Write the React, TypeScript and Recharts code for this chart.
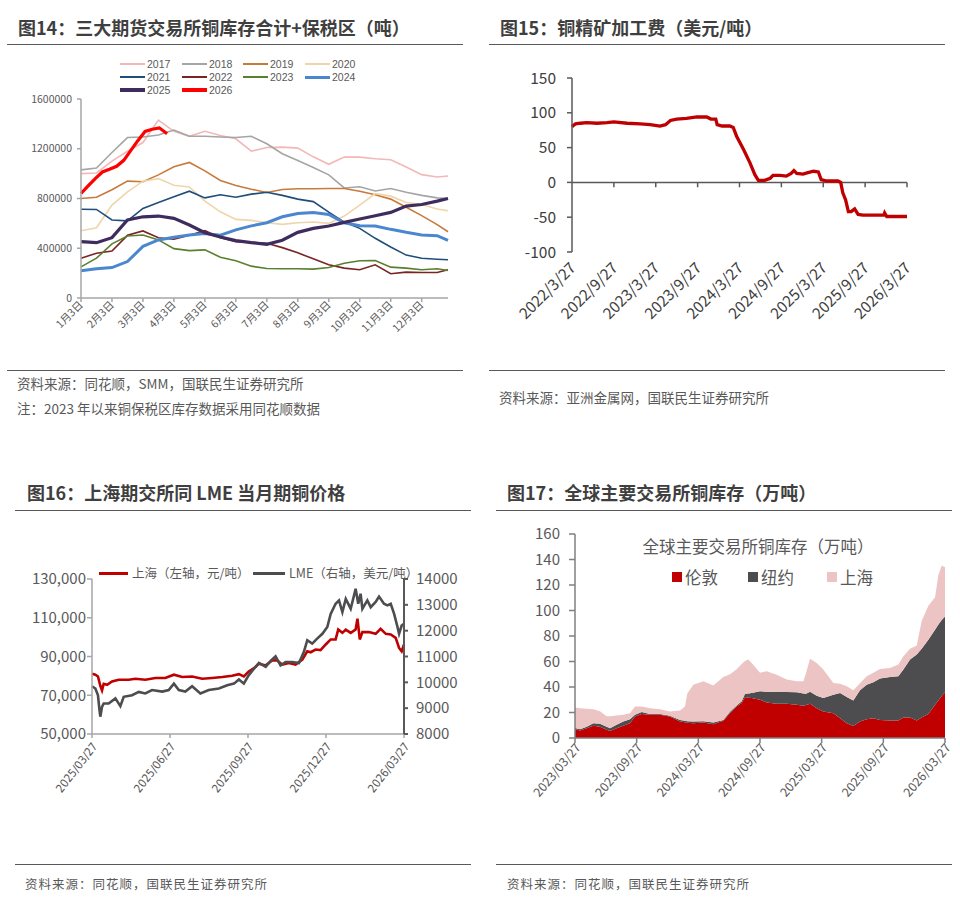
import React from 'react';
import { LineChart, Line, XAxis, YAxis, AreaChart, Area, ReferenceLine } from 'recharts';

const FONT = '"Noto Sans CJK SC", "Noto Sans", sans-serif';
const NARROW = '"Liberation Sans Narrow", "DejaVu Sans Condensed", "Noto Sans", sans-serif';
const LATIN = '"Liberation Sans", Arial, sans-serif';

// ---------- 图14：三大期货交易所铜库存合计+保税区（千吨） ----------
const invMonthLabels = ['1月3日', '2月3日', '3月3日', '4月3日', '5月3日', '6月3日', '7月3日', '8月3日', '9月3日', '10月3日', '11月3日', '12月3日'];
const invMonthGrid = [0, 0.5, 1, 1.5, 2, 2.5, 3, 3.5, 4, 4.5, 5, 5.5, 6, 6.5, 7, 7.5, 8, 8.5, 9, 9.5, 10, 10.5, 11, 11.5, 11.85];
const inv2017 = [1000, 1005, 1100, 1180, 1250, 1430, 1340, 1300, 1340, 1307, 1280, 1180, 1210, 1213, 1205, 1135, 1075, 1133, 1133, 1120, 1112, 1053, 992, 973, 981];
const inv2018 = [1030, 1045, 1170, 1290, 1295, 1310, 1350, 1300, 1300, 1295, 1290, 1300, 1240, 1160, 1105, 1050, 990, 885, 895, 860, 880, 850, 825, 805, 800];
const inv2019 = [800, 810, 870, 940, 935, 990, 1055, 1090, 1022, 945, 905, 875, 848, 872, 878, 878, 880, 880, 858, 830, 795, 730, 662, 590, 533];
const inv2020 = [540, 565, 747, 853, 939, 960, 907, 893, 779, 693, 632, 624, 605, 592, 605, 611, 600, 659, 747, 840, 819, 768, 752, 715, 701];
const inv2021 = [714, 712, 627, 620, 720, 768, 815, 859, 805, 830, 810, 835, 850, 825, 795, 775, 690, 610, 560, 480, 410, 345, 320, 312, 307];
const inv2022 = [320, 360, 378, 504, 539, 485, 472, 504, 541, 485, 453, 448, 440, 405, 363, 315, 267, 240, 227, 267, 195, 208, 205, 205, 227];
const inv2023 = [250, 320, 435, 499, 507, 467, 397, 381, 387, 328, 299, 256, 237, 235, 235, 232, 245, 280, 299, 301, 248, 240, 227, 235, 221];
const inv2024 = [220, 235, 245, 293, 415, 467, 488, 507, 518, 505, 548, 580, 605, 653, 680, 688, 672, 605, 581, 579, 552, 528, 507, 501, 464];
const inv2025 = [453, 445, 485, 627, 653, 659, 640, 587, 525, 491, 461, 445, 432, 464, 528, 560, 579, 608, 635, 661, 688, 739, 752, 779, 800];
const inv2026Months = [0, 0.23, 0.46, 0.69, 0.92, 1.15, 1.38, 1.61, 1.84, 2.07, 2.3, 2.53, 2.78];
const inv2026 = [840, 901, 960, 1013, 1035, 1059, 1107, 1187, 1267, 1339, 1357, 1368, 1320];

const invSeries = [
  { year: '2017', values: inv2017, color: '#F2B8B8', width: 1.6 },
  { year: '2018', values: inv2018, color: '#A5A5A5', width: 1.6 },
  { year: '2019', values: inv2019, color: '#C77A3C', width: 1.6 },
  { year: '2020', values: inv2020, color: '#EFD5A9', width: 1.6 },
  { year: '2021', values: inv2021, color: '#1F4E79', width: 1.6 },
  { year: '2022', values: inv2022, color: '#7B2424', width: 1.6 },
  { year: '2023', values: inv2023, color: '#5A7F2D', width: 1.6 },
  { year: '2024', values: inv2024, color: '#4A87CF', width: 3 },
  { year: '2025', values: inv2025, color: '#3E2C5E', width: 3.2 },
];
const inv2026Style = { year: '2026', color: '#FF0000', width: 3.2 };
const invTicksY = [0, 400000, 800000, 1200000, 1600000];

const invRows = invMonthGrid.map((m, i) => {
  const row: any = { m };
  invSeries.forEach((s) => { row['y' + s.year] = s.values[i] * 1000; });
  return row;
});
const inv2026Rows = inv2026Months.map((m, i) => ({ m, v: inv2026[i] * 1000 }));

// ---------- 图15：铜精矿加工费（美元/吨） ----------
const tcDateLabels = ['2022/3/27', '2022/9/27', '2023/3/27', '2023/9/27', '2024/3/27', '2024/9/27', '2025/3/27', '2025/9/27', '2026/3/27'];
const tcMonths = [0, 0.1, 0.5, 1.2, 2.1, 3.6, 5.0, 6.0, 7.9, 9.8, 11.2, 12.6, 13.4, 14.1, 15.0, 16.4, 17.9, 19.3, 19.9, 20.6, 20.8, 21.5, 22.6, 23.1, 23.6, 24.6, 25.5, 26.2, 26.7, 27.6, 28.4, 28.8, 29.8, 30.7, 31.4, 31.8, 32.2, 33.1, 33.8, 34.6, 35.3, 35.7, 36.5, 38.1, 38.5, 38.8, 39.2, 39.6, 40.0, 40.5, 41.0, 41.7, 44.1, 44.7, 44.8, 45.1, 48];
const tcValues = [80, 81, 84, 85, 86, 85, 86, 87, 85, 84, 83, 81, 83, 89, 91, 92, 94, 94, 91, 91, 83, 81, 81, 79, 66, 47, 28, 11, 3, 3, 6, 10, 10, 9, 13, 17, 13, 12, 14, 16, 15, 4, 2, 2, 0, -15, -25, -42, -42, -38, -46, -47, -47, -47, -44, -49, -49];
const tcTicksY = [-100, -50, 0, 50, 100, 150];
const tcRows = tcMonths.map((m, i) => ({ m, v: tcValues[i] }));

// ---------- 图16：上海期交所同 LME 当月期铜价格 ----------
const pxDateLabels = ['2025/03/27', '2025/06/27', '2025/09/27', '2025/12/27', '2026/03/27'];
const shMonths = [0, 0.13, 0.23, 0.32, 0.385, 0.45, 0.58, 0.77, 1.03, 1.41, 1.67, 2.05, 2.44, 2.82, 3.15, 3.47, 3.85, 4.24, 4.62, 5.01, 5.39, 5.65, 5.84, 6.03, 6.29, 6.42, 6.68, 6.93, 7.12, 7.32, 7.57, 7.83, 8.09, 8.28, 8.41, 8.6, 8.79, 8.99, 9.18, 9.37, 9.47, 9.63, 9.76, 9.95, 10.14, 10.21, 10.3, 10.4, 10.65, 10.91, 11.1, 11.3, 11.49, 11.68, 11.81, 11.91, 12];
const shPrice = [81100, 80600, 79700, 74900, 72500, 75900, 75400, 77100, 78000, 78000, 78500, 78000, 78900, 78900, 80600, 79400, 79700, 78500, 78900, 79400, 80100, 80900, 79700, 82300, 84600, 86300, 85400, 87900, 88000, 85800, 86700, 85800, 88400, 92700, 92200, 93600, 93300, 96200, 98800, 98800, 103900, 102200, 103900, 102200, 103900, 109500, 98800, 102600, 102600, 101700, 104300, 101700, 101400, 99600, 94400, 92700, 96200];
const lmeMonths = [0, 0.13, 0.23, 0.28, 0.32, 0.385, 0.45, 0.64, 0.9, 1.09, 1.22, 1.54, 1.8, 2.05, 2.31, 2.7, 2.95, 3.15, 3.34, 3.59, 3.85, 4.17, 4.49, 4.88, 5.2, 5.46, 5.65, 5.84, 6.03, 6.23, 6.42, 6.68, 6.87, 7.06, 7.25, 7.45, 7.7, 7.96, 8.15, 8.28, 8.47, 8.66, 8.86, 9.05, 9.18, 9.37, 9.5, 9.63, 9.76, 9.95, 10.14, 10.24, 10.33, 10.4, 10.59, 10.72, 10.91, 11.04, 11.23, 11.36, 11.49, 11.62, 11.75, 11.81, 11.91, 12];
const lmePrice = [9850, 9760, 9500, 9000, 8670, 9050, 9180, 9180, 9380, 9080, 9440, 9500, 9630, 9570, 9700, 9640, 9700, 9950, 9700, 9640, 9850, 9570, 9700, 9760, 9890, 9950, 10110, 9950, 10280, 10530, 10750, 10600, 10830, 11010, 10660, 10790, 10790, 10750, 11180, 11630, 11500, 11690, 11880, 12140, 12650, 13040, 13170, 12720, 13230, 12850, 13620, 13040, 13430, 12850, 13170, 12910, 13110, 13320, 13040, 12980, 13040, 12650, 12140, 11880, 12200, 12270];
const shTicks = [50000, 70000, 90000, 110000, 130000];
const lmeTicks = [8000, 9000, 10000, 11000, 12000, 13000, 14000];
const shRows = shMonths.map((m, i) => ({ m, v: shPrice[i] }));
const lmeRows = lmeMonths.map((m, i) => ({ m, v: lmePrice[i] }));
const pxSeries = [
  { name: '上海（左轴，元/吨）', color: '#C00000' },
  { name: 'LME（右轴，美元/吨）', color: '#4D4D4F' },
];

// ---------- 图17：全球主要交易所铜库存（万吨） ----------
const stockDateLabels = ['2023/03/27', '2023/09/27', '2024/03/27', '2024/09/27', '2025/03/27', '2025/09/27', '2026/03/27'];
const stockMonths = [0, 0.49, 1.14, 1.78, 2.43, 3.08, 3.41, 4.05, 4.7, 5.35, 5.84, 6.49, 7.3, 8.27, 9.24, 10.22, 10.7, 10.93, 11.51, 12.49, 13.46, 14.43, 15.08, 15.73, 16.22, 16.54, 16.87, 17.19, 18.0, 18.65, 19.62, 20.6, 21.57, 22.22, 22.48, 22.87, 23.52, 24.16, 25.14, 25.79, 26.44, 27.08, 27.73, 28.38, 29.03, 29.68, 30.65, 31.46, 31.95, 32.6, 33.25, 33.73, 34.38, 35.03, 35.36, 35.68, 36.0];
const stockLondon = [7.1, 5.8, 7.6, 9.7, 8.9, 6.5, 5.5, 7.6, 9.7, 11.6, 16.8, 18.9, 18.2, 18.2, 16.8, 12.9, 12.4, 12.0, 11.6, 12.1, 10.8, 13.5, 19.5, 24.7, 27.4, 32.1, 31.6, 31.3, 30.0, 27.9, 26.8, 26.8, 26.0, 25.3, 25.8, 26.8, 23.4, 20.8, 19.5, 15.5, 11.6, 9.5, 12.9, 14.7, 15.5, 14.2, 13.7, 13.7, 16.0, 16.0, 13.7, 16.0, 18.9, 26.0, 29.5, 33.0, 35.8];
const stockNewYork = [0.8, 1.0, 1.3, 1.9, 2.3, 2.4, 2.1, 2.7, 3.2, 3.1, 1.4, 1.4, 0.7, 0.7, 0.6, 1.3, 1.1, 1.2, 1.3, 1.1, 1.3, 0.7, 1.0, 0.8, 1.5, 2.6, 3.4, 4.0, 6.6, 8.4, 9.2, 9.2, 9.8, 9.7, 8.9, 9.5, 9.8, 10.5, 14.4, 19.8, 20.5, 20.0, 24.5, 27.1, 28.2, 32.4, 34.2, 34.7, 37.7, 45.6, 51.8, 54.0, 58.1, 59.0, 59.5, 59.5, 59.5];
const stockShanghai = [16.0, 16.6, 14.1, 11.0, 9.8, 8.1, 9.4, 7.3, 5.3, 4.8, 6.5, 4.4, 4.5, 3.7, 3.4, 7.4, 11.2, 21.8, 28.9, 31.3, 29.0, 33.7, 29.5, 28.5, 29.1, 25.6, 26.6, 23.6, 14.5, 16.1, 13.7, 9.8, 8.7, 9.5, 16.3, 25.8, 25.7, 22.4, 9.3, 7.3, 8.4, 7.9, 5.6, 6.6, 7.4, 7.6, 7.1, 9.2, 10.5, 8.4, 7.1, 21.8, 26.7, 25.3, 38.9, 42.8, 38.7];
const stockTicksY = [0, 20, 40, 60, 80, 100, 120, 140, 160];
const stockSeries = [
  { key: 'london', name: '伦敦', color: '#C00000' },
  { key: 'ny', name: '纽约', color: '#4D4D4F' },
  { key: 'sh', name: '上海', color: '#ECC4C4' },
];
const stockRows = stockMonths.map((m, i) => ({ m, london: stockLondon[i], ny: stockNewYork[i], sh: stockShanghai[i] }));

// ---------- helpers ----------
const RotTick = (props: any) => {
  const { x, y, payload, angle, fontSize, fmt, color, family, dx = 0 } = props;
  return (
    <g transform={`translate(${x + dx},${y})`}>
      <text x={0} y={0} dy="0.35em" textAnchor="end" transform={`rotate(${angle})`} fontSize={fontSize} fill={color} fontFamily={family}>
        {fmt(payload.value)}
      </text>
    </g>
  );
};

const Abs = ({ x, y, children, style }: any) => (
  <div style={{ position: 'absolute', left: x, top: y, whiteSpace: 'nowrap', fontFamily: FONT, ...style }}>{children}</div>
);
const Title = ({ x, y, text }: any) => (
  <Abs x={x} y={y - 11} style={{ fontSize: 18, fontWeight: 700, color: '#3F3F3F', lineHeight: '22px' }}>{text}</Abs>
);
const Rule = ({ x, y, w }: any) => (
  <div style={{ position: 'absolute', left: x, top: y, width: w, height: 0, borderTop: '1.5px solid #595959' }} />
);
const Note = ({ x, y, text, style }: any) => (
  <Abs x={x} y={y - 9} style={{ fontSize: 13.5, color: '#595959', lineHeight: '18px', ...style }}>{text}</Abs>
);

const legendCols = [120, 182, 243, 305];
const legendRows = [64, 77, 90];

export default function App() {
  const allInv = [...invSeries, inv2026Style];
  return (
    <div style={{ position: 'absolute', left: 0, top: 0, width: 960, height: 917, background: '#fff', overflow: 'hidden' }}>
      {/* ===== 图14 ===== */}
      <Title x={18} y={27} text="图14：三大期货交易所铜库存合计+保税区（吨）" />
      <Rule x={7} y={44} w={456} />
      <div style={{ position: 'absolute', left: 0, top: 0 }}>
        <LineChart width={480} height={370} data={invRows} margin={{ top: 99, right: 32, bottom: 22, left: 0 }}>
          <XAxis type="number" dataKey="m" domain={[0, 11.85]} ticks={invMonthLabels.map((_, i) => i)} interval={0}
            height={50} tickSize={4} tickMargin={1} stroke="#A6A6A6" strokeWidth={1.5}
            tick={<RotTick angle={-45} fontSize={10.5} color="#595959" family={FONT} fmt={(v: number) => invMonthLabels[v]} />} />
          <YAxis type="number" domain={[0, 1600000]} ticks={invTicksY} interval={0} width={81} tickSize={4} tickMargin={5}
            stroke="#A6A6A6" strokeWidth={1.5} tick={{ fontSize: 10.5, fill: '#595959', fontFamily: FONT }} />
          {invSeries.map((s) => (
            <Line key={s.year} type="linear" dataKey={'y' + s.year} stroke={s.color} strokeWidth={s.width} dot={false} isAnimationActive={false} />
          ))}
          <Line data={inv2026Rows} type="linear" dataKey="v" stroke={inv2026Style.color} strokeWidth={inv2026Style.width} dot={false} isAnimationActive={false} />
        </LineChart>
      </div>
      {allInv.map((s, i) => {
        const col = legendCols[i % 4];
        const row = legendRows[Math.floor(i / 4)];
        return (
          <React.Fragment key={s.year}>
            <div style={{ position: 'absolute', left: col, top: row - s.width / 2, width: 25, height: s.width, background: s.color }} />
            <Abs x={col + 27} y={row - 6} style={{ fontSize: 10.5, color: '#595959', lineHeight: '12px', fontFamily: LATIN }}>{s.year}</Abs>
          </React.Fragment>
        );
      })}
      <Rule x={7} y={370} w={456} />
      <Note x={17} y={383} text="资料来源：同花顺，SMM，国联民生证券研究所" />
      <Note x={17} y={408} text="注：2023 年以来铜保税区库存数据采用同花顺数据" />

      {/* ===== 图15 ===== */}
      <Title x={500} y={27} text="图15：铜精矿加工费（美元/吨）" />
      <Rule x={489} y={44} w={456} />
      <div style={{ position: 'absolute', left: 480, top: 0 }}>
        <LineChart width={480} height={370} data={tcRows} margin={{ top: 78, right: 53, bottom: 28, left: 0 }}>
          <XAxis type="number" dataKey="m" domain={[0, 48]} ticks={tcDateLabels.map((_, i) => i * 6)} interval={0}
            height={90} tickSize={0} tickMargin={13} axisLine={false} tickLine={false}
            tick={<RotTick angle={-45} fontSize={15.5} color="#404040" family={FONT} dx={1} fmt={(v: number) => tcDateLabels[v / 6]} />} />
          <YAxis type="number" domain={[-100, 150]} ticks={tcTicksY} interval={0} width={92} tickSize={5} tickMargin={11}
            stroke="#595959" strokeWidth={1.5} tick={{ fontSize: 15.5, fill: '#404040', fontFamily: FONT }} />
          <ReferenceLine y={0} stroke="#595959" strokeWidth={1.5} />
          {tcDateLabels.slice(1).map((_, i) => (
            <ReferenceLine key={i} segment={[{ x: (i + 1) * 6, y: 0 }, { x: (i + 1) * 6, y: -7 }]} stroke="#595959" strokeWidth={1.5} />
          ))}
          <Line type="linear" dataKey="v" stroke="#C00000" strokeWidth={3.3} dot={false} isAnimationActive={false} />
        </LineChart>
      </div>
      <Rule x={489} y={370} w={456} />
      <Note x={499} y={397} text="资料来源：亚洲金属网，国联民生证券研究所" />

      {/* ===== 图16 ===== */}
      <Title x={27} y={492} text="图16：上海期交所同 LME 当月期铜价格" />
      <Rule x={15} y={510} w={456} />
      <div style={{ position: 'absolute', left: 0, top: 500 }}>
        <LineChart width={480} height={360} margin={{ top: 79, right: 0, bottom: 46, left: 0 }}>
          <XAxis type="number" dataKey="m" domain={[0, 12]} ticks={pxDateLabels.map((_, i) => i * 3)} interval={0}
            height={80} tickSize={4} tickMargin={6} stroke="#A6A6A6" strokeWidth={1.5}
            tick={<RotTick angle={-52} fontSize={11.5} color="#595959" family={NARROW} dx={3} fmt={(v: number) => pxDateLabels[v / 3]} />} />
          <YAxis yAxisId="left" type="number" domain={[50000, 130000]} ticks={shTicks} interval={0} width={92} tickSize={5} tickMargin={1}
            stroke="#A6A6A6" strokeWidth={1.5} tick={{ fontSize: 15, fill: '#595959', fontFamily: FONT }}
            tickFormatter={(v: number) => v.toLocaleString('en-US')} />
          <YAxis yAxisId="right" orientation="right" type="number" domain={[8000, 14000]} ticks={lmeTicks} interval={0} width={76} tickSize={4} tickMargin={8}
            stroke="#595959" strokeWidth={2} tick={{ fontSize: 15, fill: '#595959', fontFamily: FONT }} />
          <Line yAxisId="left" data={shRows} type="linear" dataKey="v" stroke={pxSeries[0].color} strokeWidth={2.6} dot={false} isAnimationActive={false} />
          <Line yAxisId="right" data={lmeRows} type="linear" dataKey="v" stroke={pxSeries[1].color} strokeWidth={2.6} dot={false} isAnimationActive={false} />
        </LineChart>
      </div>
      {pxSeries.map((s, i) => {
        const lx = [99, 253][i];
        const lw = [29, 32][i];
        return (
          <React.Fragment key={s.name}>
            <div style={{ position: 'absolute', left: lx, top: 573 - 1.5, width: lw, height: 3, background: s.color }} />
            <Abs x={lx + lw + 4} y={573 - 9} style={{ fontSize: 12.5, color: '#595959', lineHeight: '18px' }}>{s.name}</Abs>
          </React.Fragment>
        );
      })}
      <Rule x={15} y={864} w={456} />
      <Note x={25} y={884} text="资料来源：同花顺，国联民生证券研究所" style={{ fontSize: 12.5, letterSpacing: 1 }} />

      {/* ===== 图17 ===== */}
      <Title x={507} y={492} text="图17：全球主要交易所铜库存（万吨）" />
      <Rule x={496} y={510} w={456} />
      <div style={{ position: 'absolute', left: 480, top: 500 }}>
        <AreaChart width={480} height={360} data={stockRows} margin={{ top: 34, right: 15, bottom: 42, left: 0 }}>
          <XAxis type="number" dataKey="m" domain={[0, 36]} ticks={stockDateLabels.map((_, i) => i * 6)} interval={0}
            height={80} tickSize={5} tickMargin={2} stroke="#7F7F7F" strokeWidth={1.5}
            tick={<RotTick angle={-50} fontSize={12.5} color="#595959" family={FONT} dx={3} fmt={(v: number) => stockDateLabels[v / 6]} />} />
          <YAxis type="number" domain={[0, 160]} ticks={stockTicksY} interval={0} width={95} tickSize={6} tickMargin={9}
            stroke="#7F7F7F" strokeWidth={1.5} tick={{ fontSize: 15, fill: '#595959', fontFamily: FONT }} />
          {stockSeries.map((s) => (
            <Area key={s.key} type="linear" dataKey={s.key} stackId="1" stroke="none" fill={s.color} fillOpacity={1} isAnimationActive={false} />
          ))}
        </AreaChart>
      </div>
      <Abs x={758} y={546 - 12} style={{ fontSize: 16.5, color: '#595959', lineHeight: '24px', transform: 'translateX(-50%)' }}>全球主要交易所铜库存（万吨）</Abs>
      {stockSeries.map((s, i) => {
        const sx = [672, 748, 827][i];
        return (
          <React.Fragment key={s.key}>
            <div style={{ position: 'absolute', left: sx, top: 572, width: 10, height: 10, background: s.color }} />
            <Abs x={sx + 13} y={577 - 12} style={{ fontSize: 16.5, color: '#595959', lineHeight: '24px' }}>{s.name}</Abs>
          </React.Fragment>
        );
      })}
      <Rule x={496} y={864} w={456} />
      <Note x={507} y={884} text="资料来源：同花顺，国联民生证券研究所" style={{ fontSize: 12.5, letterSpacing: 1 }} />
    </div>
  );
}
